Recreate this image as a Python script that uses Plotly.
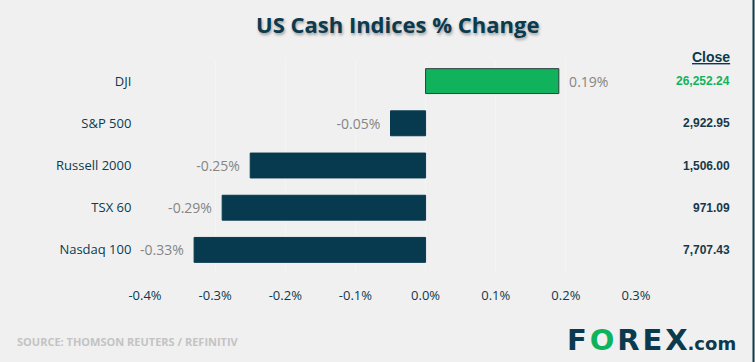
import plotly.graph_objects as go

categories = ["DJI", "S&P 500", "Russell 2000", "TSX 60", "Nasdaq 100"]
changes = [0.19, -0.05, -0.25, -0.29, -0.33]
closes = ["26,252.24", "2,922.95", "1,506.00", "971.09", "7,707.43"]
tick_vals = [-0.4, -0.3, -0.2, -0.1, 0.0, 0.1, 0.2, 0.3]
tick_text = ["-0.4%", "-0.3%", "-0.2%", "-0.1%", "0.0%", "0.1%", "0.2%", "0.3%"]

GREEN = "#10b35c"
DARK = "#073a4e"
BG = "#f0f0f0"

colors = [GREEN if v > 0 else DARK for v in changes]
lines = ["#2e3d3d" if v > 0 else DARK for v in changes]
labels = [("  " + f"{v:.2f}%") if v > 0 else (f"{v:.2f}%" + "  ") for v in changes]

fig = go.Figure()
fig.add_trace(go.Bar(
    y=categories, x=changes, orientation="h",
    marker=dict(color=colors, line=dict(color=lines, width=1)),
    width=0.59,
    text=labels,
    textposition="outside",
    textfont=dict(family="Open Sans, sans-serif", size=14, color="#858585"),
    cliponaxis=False,
    hoverinfo="skip",
))

W, H = 755, 362
L, R, T, B = 145, 119, 60, 91
pw, ph = W - L - R, H - T - B

def px_x(p):
    return (p - L) / pw

def px_y(p):
    return (H - B - p) / ph

hs = "&#8202;"
logo = ("<b><span style='color:#0b3a4e'>F</span>" + hs +
        "<span style='color:#10b35c'>O</span>" + hs +
        "<span style='color:#0b3a4e'>R" + hs + "E" + hs + "X</span></b>"
        "<b><span style='color:#0b3a4e;font-size:18px'>.com</span></b>")

annotations = [
    dict(text="<b>US Cash Indices % Change</b>", xref="paper", yref="paper",
         x=px_x(397), y=px_y(24), xanchor="center", yanchor="middle", showarrow=False,
         font=dict(family="Open Sans, sans-serif", size=22, color="#0b3a4e",
                   shadow="1px 2px 3px rgba(0,0,0,0.35)")),
    dict(text="<b><u>Close</u></b>", xref="paper", yref="paper",
         x=px_x(732), y=px_y(57), xanchor="right", yanchor="middle", showarrow=False,
         font=dict(family="Liberation Sans, Arial, sans-serif", size=14, color="#0b3a4e")),
    dict(text="<b>SOURCE: THOMSON REUTERS / REFINITIV</b>", xref="paper", yref="paper",
         x=px_x(15), y=px_y(341), xanchor="left", yanchor="middle", showarrow=False,
         font=dict(family="Open Sans, sans-serif", size=11, color="#c3c3c3")),
    dict(text=logo,
         xref="paper", yref="paper",
         x=px_x(565), y=px_y(340), xanchor="left", yanchor="middle", showarrow=False,
         font=dict(family="DejaVu Sans, sans-serif", size=29, color="#0b3a4e")),
]
for cat, c, v in zip(categories, closes, changes):
    annotations.append(dict(
        text=f"<b>{c}</b>", xref="paper", yref="y", x=px_x(732), y=cat,
        xanchor="right", yanchor="middle", showarrow=False,
        font=dict(family="Liberation Sans, Arial, sans-serif", size=12,
                  color=GREEN if v > 0 else "#16394a")))

fig.update_layout(
    width=W, height=H,
    margin=dict(l=L, r=R, t=T, b=B, autoexpand=False),
    paper_bgcolor=BG, plot_bgcolor=BG,
    showlegend=False,
    annotations=annotations,
    shapes=[dict(type="line", xref="paper", yref="paper",
                 x0=px_x(753.5), x1=px_x(753.5), y0=px_y(0), y1=px_y(362),
                 line=dict(color="#0b3a4e", width=2))],
    xaxis=dict(range=[-0.4, 0.3], tickvals=tick_vals, ticktext=tick_text,
               showgrid=True, gridcolor="#f4f4f4", zeroline=False, showline=False,
               ticks="outside", ticklen=12, tickcolor="rgba(0,0,0,0)",
               tickfont=dict(family="Open Sans, sans-serif", size=13, color="#0b3a4e"),
               fixedrange=True),
    yaxis=dict(showgrid=False, zeroline=False,
               ticks="outside", ticklen=10, tickcolor="rgba(0,0,0,0)",
               tickfont=dict(family="Open Sans, sans-serif", size=13, color="#0b3a4e"),
               fixedrange=True),
)
fig.update_yaxes(range=[4.5, -0.5], autorange=False)

fig.write_html("out.html", config={"displayModeBar": False},
               post_script="document.body.style.margin='0';")
